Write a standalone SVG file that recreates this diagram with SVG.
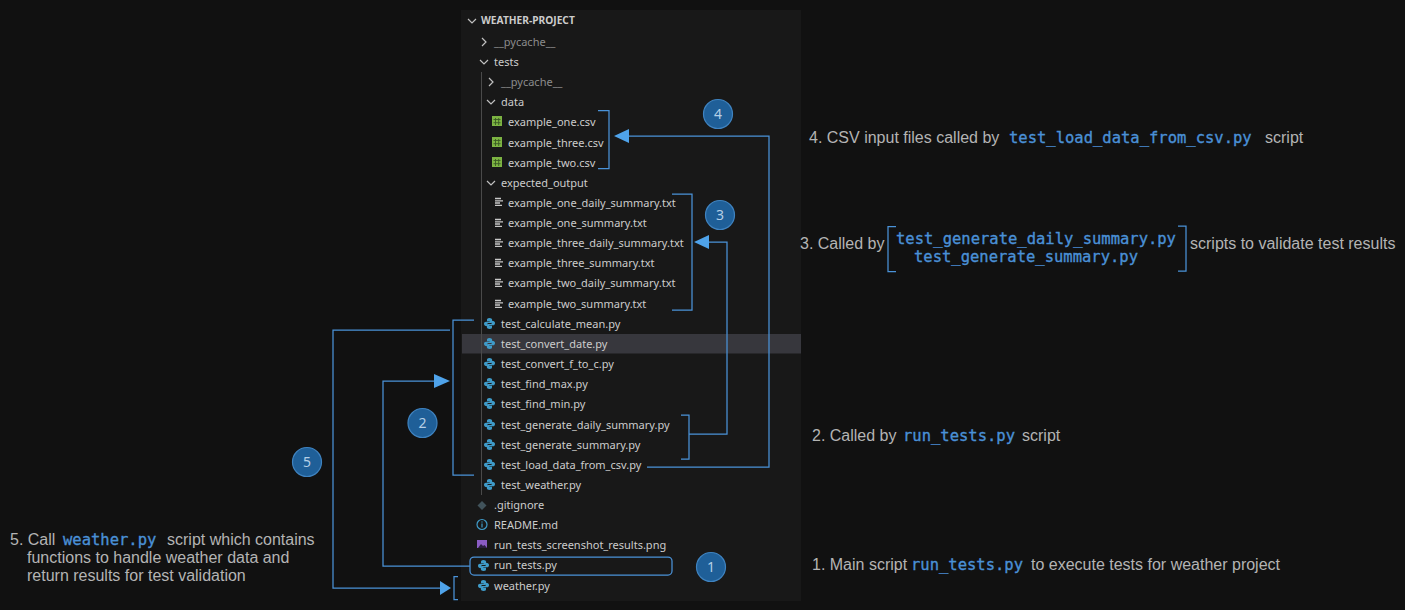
<svg xmlns="http://www.w3.org/2000/svg" width="1405" height="610" viewBox="0 0 1405 610">
<style>
text{font-family:"Noto Sans","Open Sans","DejaVu Sans",sans-serif}
.f{font-size:11px;fill:#cccccc}
.g{font-size:11px;fill:#8c8c8c}
.h{font-size:10.2px;font-weight:700;fill:#cccccc}
.t{font-family:"Liberation Sans",Arial,sans-serif;font-size:16px;fill:#b4b4b4}
.m{font-family:"DejaVu Sans Mono","Liberation Mono",monospace;font-size:15.5px;fill:#4a90d6;stroke:#4a90d6;stroke-width:.35}
.n{font-family:"Noto Sans",sans-serif;font-size:14px;fill:#b5cfe6;text-anchor:middle}
.c{fill:none;stroke:#4a92d8;stroke-width:1.25}
.v{fill:none;stroke:#c0c0c0;stroke-width:1.2}
.b{fill:#1f5f98;stroke:#3f83c0;stroke-width:1.2}
.a{fill:#4fa3ea}
</style>
<defs>
<path id="snake" d="M5.500 0C3.200 0 3 1 3 2V3.200H5.700V3.700H2C.8 3.700 0 4.600 0 5.800 0 7 .7 8 1.800 8H3V6.600C3 5.600 3.800 5 4.700 5H7C7.800 5 8.200 4.400 8.200 3.700V2C8.200 .8 7 0 5.500 0z"/>
<g id="py" fill="#3f9bc9"><use href="#snake"/><use href="#snake" transform="rotate(180 5.500 5.500)"/></g>
<g id="csv"><rect width="10" height="10" fill="#7cb342"/><path d="M1.500 3.500h7M1.500 6.700h7M3.500 2v7M6.700 2v7" stroke="#3a5a24" stroke-width=".9"/></g>
<g id="txt"><path d="M0 .5h6M0 2.800h8M0 5h5M0 7.300h7" stroke="#c8c8c8" stroke-width="1.300"/></g>
</defs>
<rect width="1405" height="610" fill="#111111"/>

<g id="explorer-panel">
<rect x="461" y="10" width="340" height="591" fill="#181818"/>
<rect x="462" y="334" width="339" height="19.500" fill="#37373d"/>
<path d="M481.500 72V495" stroke="#4a4a4a" fill="none"/>
</g>

<g id="tree">
<g id="root"><path class="v" d="M468 19l4 4 4-4"/><text class="h" x="481" y="24">WEATHER-PROJECT</text></g>
<g id="pycache-root"><path class="v" d="M482 38l4 4-4 4"/><text class="g" x="494" y="46">__pycache__</text></g>
<g id="tests"><path class="v" d="M480 60l4 4 4-4"/><text class="f" x="494" y="66">tests</text></g>
<g id="pycache-tests"><path class="v" d="M489 78l4 4-4 4"/><text class="g" x="501" y="86">__pycache__</text></g>
<g id="data"><path class="v" d="M487 100l4 4 4-4"/><text class="f" x="501" y="106">data</text></g>
<g id="example-one-csv"><use href="#csv" x="492" y="116"/><text class="f" x="508" y="126">example_one.csv</text></g>
<g id="example-three-csv"><use href="#csv" x="492" y="137"/><text class="f" x="508" y="147">example_three.csv</text></g>
<g id="example-two-csv"><use href="#csv" x="492" y="157"/><text class="f" x="508" y="167">example_two.csv</text></g>
<g id="expected-output"><path class="v" d="M487 181l4 4 4-4"/><text class="f" x="501" y="187">expected_output</text></g>
<g id="f1"><use href="#txt" x="495" y="198"/><text class="f" x="508" y="207">example_one_daily_summary.txt</text></g>
<g id="f2"><use href="#txt" x="495" y="219"/><text class="f" x="508" y="227">example_one_summary.txt</text></g>
<g id="f3"><use href="#txt" x="495" y="239"/><text class="f" x="508" y="247">example_three_daily_summary.txt</text></g>
<g id="f4"><use href="#txt" x="495" y="259"/><text class="f" x="508" y="267">example_three_summary.txt</text></g>
<g id="f5"><use href="#txt" x="495" y="279"/><text class="f" x="508" y="287">example_two_daily_summary.txt</text></g>
<g id="f6"><use href="#txt" x="495" y="300"/><text class="f" x="508" y="308">example_two_summary.txt</text></g>
<g id="t1"><use href="#py" x="484" y="318"/><text class="f" x="501" y="328">test_calculate_mean.py</text></g>
<g id="t2"><use href="#py" x="484" y="338"/><text class="f" x="501" y="348">test_convert_date.py</text></g>
<g id="t3"><use href="#py" x="484" y="358"/><text class="f" x="501" y="368">test_convert_f_to_c.py</text></g>
<g id="t4"><use href="#py" x="484" y="378"/><text class="f" x="501" y="388">test_find_max.py</text></g>
<g id="t5"><use href="#py" x="484" y="398"/><text class="f" x="501" y="408">test_find_min.py</text></g>
<g id="t6"><use href="#py" x="484" y="419"/><text class="f" x="501" y="429">test_generate_daily_summary.py</text></g>
<g id="t7"><use href="#py" x="484" y="439"/><text class="f" x="501" y="449">test_generate_summary.py</text></g>
<g id="t8"><use href="#py" x="484" y="459"/><text class="f" x="501" y="469">test_load_data_from_csv.py</text></g>
<g id="t9"><use href="#py" x="484" y="479"/><text class="f" x="501" y="489">test_weather.py</text></g>
<g id="gitignore"><path d="M482 501l4.500 4.500-4.500 4.500-4.500-4.500z" fill="#41535b"/><text class="f" x="494" y="509">.gitignore</text></g>
<g id="readme"><circle cx="482" cy="524.500" r="5" fill="none" stroke="#3f9bc9" stroke-width="1.200"/><path d="M482 523.500v4M482 521.500v1" stroke="#3f9bc9" stroke-width="1.200"/><text class="f" x="494" y="529">README.md</text></g>
<g id="screenshot"><rect x="477" y="540" width="10" height="8" fill="#8a5cc4"/><path d="M478 548l3-4 2 2 1.500-1 2.500 3z" fill="#2a2040"/><text class="f" x="494" y="549">run_tests_screenshot_results.png</text></g>
<g id="run-tests"><use href="#py" x="478" y="560"/><text class="f" x="494" y="569">run_tests.py</text></g>
<g id="weather"><use href="#py" x="478" y="580"/><text class="f" x="494" y="590">weather.py</text></g>
</g>

<g id="connectors">
<path class="c" d="M598 110.500h11v58h-11"/>
<path class="c" d="M672 194h20v116h-20"/>
<path class="c" d="M681 415h8v44h-8"/>
<path class="c" d="M474 320h-21v155h21"/>
<path class="c" d="M458 576.500h-4v23h4"/>
<rect class="c" x="470" y="557" width="202" height="18" rx="4"/>
<path class="c" d="M689 434h38V242h-19"/>
<path class="a" d="M694 242l15-7v14z"/>
<path class="c" d="M647 467h122V136H628"/>
<path class="a" d="M614 136l15-7v14z"/>
<path class="c" d="M470 566H383V381h52"/>
<path class="a" d="M450 381l-16-7v14z"/>
<path class="c" d="M450 330H333V588h108"/>
<path class="a" d="M451 588l-11-7v14z"/>
<path class="c" d="M896 226.500h-8v45h8"/>
<path class="c" d="M1178 226h8v45h-8"/>
</g>

<g id="badge-4"><circle class="b" cx="718" cy="114" r="14.500"/><text class="n" x="718" y="119">4</text></g>
<g id="badge-3"><circle class="b" cx="720" cy="215" r="14.500"/><text class="n" x="720" y="220">3</text></g>
<g id="badge-2"><circle class="b" cx="422.500" cy="423" r="14.500"/><text class="n" x="422.500" y="428">2</text></g>
<g id="badge-5"><circle class="b" cx="307" cy="462" r="14.500"/><text class="n" x="307" y="467">5</text></g>
<g id="badge-1"><circle class="b" cx="711" cy="567" r="14.500"/><text class="n" x="711" y="572">1</text></g>

<g id="note-4"><text class="t" x="809" y="143">4. CSV input files called by</text><text class="m" x="1009" y="143">test_load_data_from_csv.py</text><text class="t" x="1265" y="143">script</text></g>
<g id="note-3"><text class="t" x="800" y="249">3. Called by</text><text class="m" x="896" y="244">test_generate_daily_summary.py</text><text class="m" x="914" y="262">test_generate_summary.py</text><text class="t" x="1190" y="249">scripts to validate test results</text></g>
<g id="note-2"><text class="t" x="812" y="441">2. Called by</text><text class="m" x="903" y="441">run_tests.py</text><text class="t" x="1022" y="441">script</text></g>
<g id="note-1"><text class="t" x="812" y="570">1. Main script</text><text class="m" x="911" y="570">run_tests.py</text><text class="t" x="1031" y="570">to execute tests for weather project</text></g>
<g id="note-5"><text class="t" x="10" y="545">5. Call</text><text class="m" x="63" y="545">weather.py</text><text class="t" x="167" y="545">script which contains</text><text class="t" x="27" y="563">functions to handle weather data and</text><text class="t" x="27" y="581">return results for test validation</text></g>
</svg>
